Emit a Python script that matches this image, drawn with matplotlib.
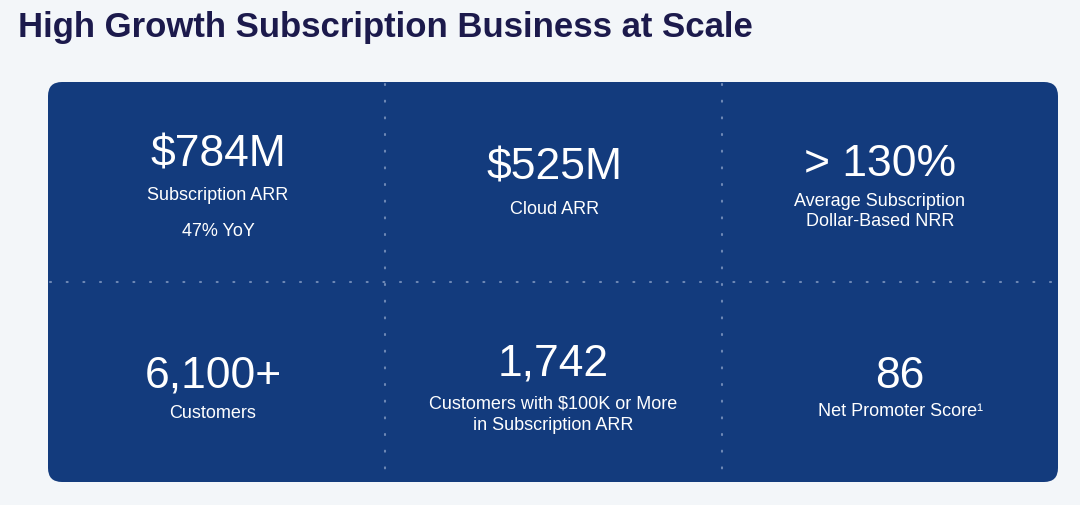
import matplotlib
matplotlib.use('Agg')
import matplotlib.pyplot as plt
from matplotlib.patches import FancyBboxPatch

plt.rcParams['font.family'] = ['Liberation Sans', 'DejaVu Sans']

title = 'High Growth Subscription Business at Scale'
values = ['$784M', '$525M', '> 130%', '6,100+', '1,742', '86']
labels = [['Subscription ARR', '47% YoY'],
          ['Cloud ARR'],
          ['Average Subscription', 'Dollar-Based NRR'],
          ['Customers'],
          ['Customers with $100K or More', 'in Subscription ARR'],
          ['Net Promoter Score¹']]

# tile layout in pixels: centre x, value y, label line y's
cx = [218, 555, 880, 213, 553, 900]
vy = [155, 168, 165, 376, 364, 377]
ly = [[195, 231], [209], [201, 221], [414], [404, 425], [412]]

bg = '#f3f6f9'
panel = '#133b7d'

fig = plt.figure(figsize=(10.8, 5.05), dpi=100, facecolor=bg)
ax = fig.add_axes([0, 0, 1, 1])
ax.set_xlim(0, 1080)
ax.set_ylim(505, 0)
ax.axis('off')

ax.text(18, 28, title, fontsize=25, fontweight='bold', color='#1c1a4c', va='center', ha='left')

ax.add_patch(FancyBboxPatch((48, 82), 1010, 400, boxstyle='round,pad=0,rounding_size=14',
                            facecolor=panel, edgecolor='none'))

dot = dict(color='#8ea3c8', lw=1.5, linestyle=(0, (0.5, 7.5)), dash_capstyle='round', alpha=0.75)
ax.plot([385, 385], [84, 480], **dot)
ax.plot([722, 722], [84, 480], **dot)
ax.plot([50, 1056], [282, 282], **dot)

for v, lines, x, y1, ys in zip(values, labels, cx, vy, ly):
    ax.text(x, y1, v, fontsize=32, color='white', ha='center', va='center')
    for line, y2 in zip(lines, ys):
        ax.text(x, y2, line, fontsize=13, color='white', ha='center', va='center')

fig.savefig('out.png', dpi=100, facecolor=bg)
